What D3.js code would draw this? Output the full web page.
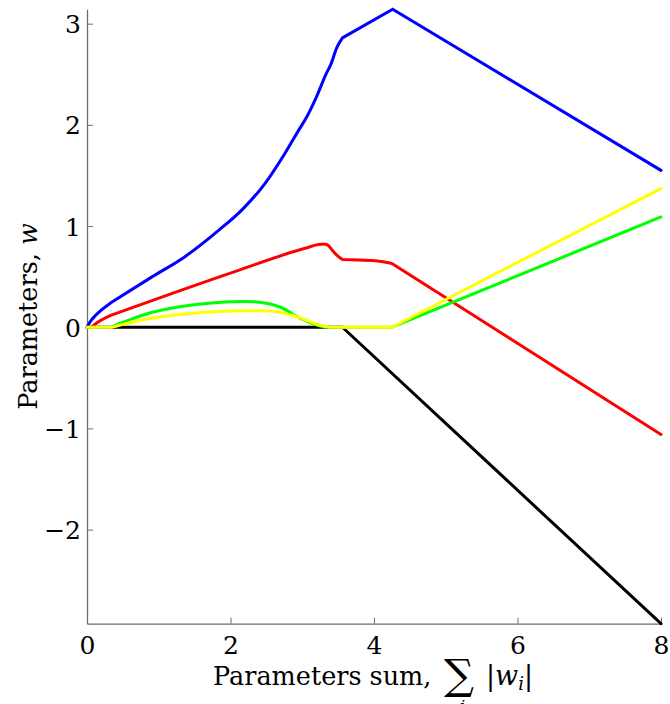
<!DOCTYPE html>
<html>
<head>
<meta charset="utf-8">
<script src="https://cdn.jsdelivr.net/npm/d3@7"></script>
<style>
  body { margin: 0; background: #fff; }
  svg { display: block; }
</style>
</head>
<body>
<svg id="chart" width="670" height="704"></svg>
<script>
// Regularisation path: each coefficient w against the L1 budget sum |w_i|
const xTicks = [0, 2, 4, 6, 8];
const yTicks = [-2, -1, 0, 1, 2, 3];
const xDomain = [0, 8];
const yDomain = [-2.93, 3.142];

const seriesNames  = ["w5", "w1", "w2", "w3", "w4"];
const seriesColors = ["#000000", "#0000ff", "#ff0000", "#00ff00", "#ffff00"];

// [sum |w_i|, w] knots for each coefficient
const wBlack = [[0, 0], [3.56, 0], [8, -2.93]];
const wBlue = [[0, 0], [0.05, 0.06], [0.11, 0.11], [0.33, 0.24], [0.9, 0.495], [1.37, 0.7],
  [1.83, 0.955], [2.16, 1.16], [2.48, 1.42], [2.76, 1.72], [2.97, 1.97], [3.04, 2.05],
  [3.2, 2.28], [3.33, 2.5], [3.4, 2.6], [3.48, 2.76], [3.56, 2.86], [4.26, 3.142], [8, 1.55]];
const wRed = [[0, 0], [0.06, 0], [0.12, 0.035], [0.34, 0.12], [2.06, 0.55], [3.04, 0.78],
  [3.26, 0.82], [3.32, 0.82], [3.36, 0.81], [3.42, 0.76], [3.5, 0.7], [3.56, 0.67],
  [3.94, 0.66], [4.1, 0.65], [4.25, 0.63], [8, -1.06]];
const wGreen = [[0, 0], [0.34, 0], [0.43, 0.03], [0.6, 0.075], [0.9, 0.145], [1.36, 0.21],
  [1.83, 0.245], [2.2, 0.255], [2.41, 0.247], [2.69, 0.2], [2.97, 0.09], [3.25, 0.012],
  [3.32, 0], [4.25, 0], [8, 1.09]];
const wYellow = [[0, 0], [0.34, 0], [0.43, 0.015], [0.6, 0.045], [0.9, 0.088], [1.36, 0.13],
  [1.83, 0.155], [2.2, 0.163], [2.55, 0.16], [2.92, 0.105], [3.25, 0.02], [3.39, 0],
  [4.25, 0], [8, 1.37]];
const seriesData = [wBlack, wBlue, wRed, wGreen, wYellow];

// knots where the path bends sharply (pieces between them are smooth)
const kinksBlack  = [3.56];
const kinksBlue   = [0.33, 3.56, 4.26];
const kinksRed    = [0.06, 0.34, 3.56, 4.25];
const kinksGreen  = [0.34, 3.32, 4.25];
const kinksYellow = [0.34, 3.39, 4.25];
const seriesKinks = [kinksBlack, kinksBlue, kinksRed, kinksGreen, kinksYellow];

const W = 670, H = 704;
const margin = { top: 9.3, right: 9, bottom: 80.3, left: 87 };
const serif = "DejaVu Serif";

const svg = d3.select("#chart");

const x = d3.scaleLinear().domain(xDomain).range([margin.left, W - margin.right]);
const y = d3.scaleLinear().domain(yDomain).range([H - margin.bottom, margin.top]);

const axisColor = "#6e6e6e";

// bottom axis, ticks pointing into the plot
const gx = svg.append("g")
  .attr("transform", `translate(0,${H - margin.bottom})`)
  .call(d3.axisBottom(x).tickValues(xTicks).tickFormat(d3.format("d"))
    .tickSizeInner(-6).tickSizeOuter(0).tickPadding(13));

// left axis, ticks pointing into the plot
const gy = svg.append("g")
  .attr("transform", `translate(${margin.left},0)`)
  .call(d3.axisLeft(y).tickValues(yTicks).tickFormat(d3.format("d"))
    .tickSizeInner(-6).tickSizeOuter(0).tickPadding(6));

[gx, gy].forEach(g => {
  g.attr("font-family", serif).attr("font-size", 25);
  g.select(".domain").attr("stroke", axisColor).attr("stroke-width", 1.3);
  g.selectAll(".tick line").attr("stroke", axisColor).attr("stroke-width", 1);
  g.selectAll(".tick text").attr("fill", "#000");
});
gy.selectAll(".tick text").attr("dy", "0.36em");

// split a path at its kinks; each piece is drawn as a smooth monotone curve
function pieces(pts, kinks) {
  const out = [];
  let cur = [];
  pts.forEach(p => {
    cur.push(p);
    if (kinks.includes(p[0])) { out.push(cur); cur = [p]; }
  });
  if (cur.length > 1) out.push(cur);
  return out;
}
const line = d3.line().curve(d3.curveMonotoneX).x(d => x(d[0])).y(d => y(d[1]));

seriesData.forEach((pts, i) => {
  const d = pieces(pts, seriesKinks[i]).map(line).join("");
  svg.append("path")
    .attr("d", d)
    .attr("fill", "none")
    .attr("stroke", seriesColors[i])
    .attr("stroke-width", 3)
    .attr("stroke-linejoin", "round")
    .attr("stroke-linecap", "round")
    .attr("data-name", seriesNames[i]);
});

// x axis label: Parameters sum, Σ_i |w_i|
const xl = svg.append("text")
  .attr("font-family", serif).attr("font-size", 25.5).attr("fill", "#000")
  .attr("x", 213).attr("y", 685);
xl.append("tspan").text("Parameters sum,");
xl.append("tspan").attr("x", 486).attr("font-size", 27).text("|");
xl.append("tspan").attr("font-style", "italic").attr("font-size", 27).text("w");
xl.append("tspan").attr("font-style", "italic").attr("font-size", 18).attr("dy", 5).text("i");
xl.append("tspan").attr("dy", -5).attr("font-size", 27).text("|");
// summation sign with its index below
svg.append("text")
  .attr("font-family", serif).attr("font-size", 42).attr("fill", "#000")
  .attr("x", 444).attr("y", 689)
  .text("∑");
svg.append("text")
  .attr("font-family", serif).attr("font-size", 16).attr("font-style", "italic").attr("fill", "#000")
  .attr("x", 460).attr("y", 712)
  .text("i");

// y axis label: Parameters, w
const yl = svg.append("text")
  .attr("font-family", serif).attr("font-size", 25.5).attr("fill", "#000")
  .attr("transform", `translate(37,${(margin.top + H - margin.bottom) / 2}) rotate(-90)`)
  .attr("text-anchor", "middle");
yl.append("tspan").text("Parameters, ");
yl.append("tspan").attr("font-style", "italic").text("w");
</script>
</body>
</html>
